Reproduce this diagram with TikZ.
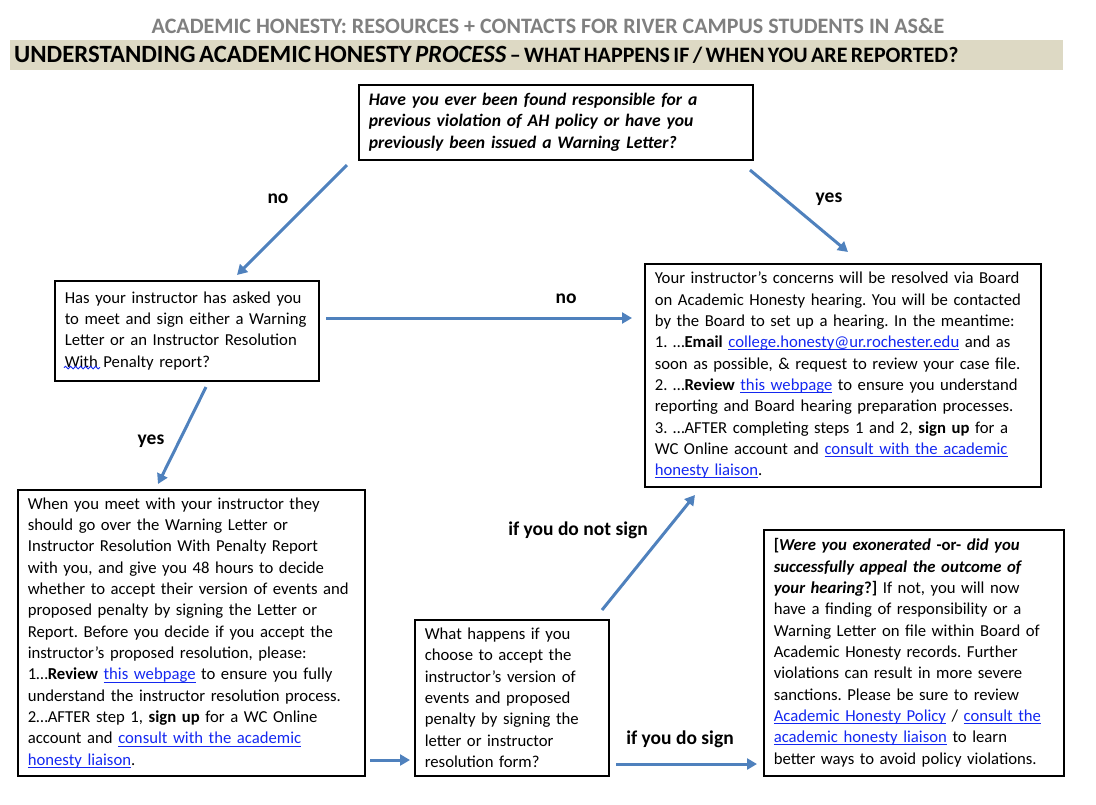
\documentclass[tikz,border=0pt]{standalone}
\usepackage{fontspec}
\setmainfont{Carlito}
\usetikzlibrary{arrows.meta,positioning,decorations.pathmorphing}
\definecolor{ahblue}{RGB}{79,129,189}
\definecolor{linkblue}{RGB}{20,40,240}
\definecolor{headgray}{RGB}{128,128,128}
\definecolor{bartan}{RGB}{221,217,196}
\newcommand{\lnk}[1]{\textcolor{linkblue}{\setbox0\hbox{#1}\rlap{\rule[-2.6pt]{\wd0}{1pt}}\box0}}
\frenchspacing
\hyphenpenalty=10000
\exhyphenpenalty=10000

\begin{document}
\begin{tikzpicture}[x=1pt, y=-1pt,
    font=\fontsize{16.7}{21.33}\selectfont,
    box/.style={draw, line width=1.6pt, anchor=north west, align=left, inner xsep=10pt, inner ysep=0pt},
    arrow/.style={-{Triangle[length=10pt,width=11pt]}, line width=3pt, ahblue},
    lbl/.style={font=\fontsize{19.5}{21}\selectfont\bfseries}
  ]
    \useasboundingbox (0,0) rectangle (1096,804);
    % headings
    \node[font=\fontsize{22}{24}\selectfont\bfseries, text=headgray] (title) at (548,26)
      {ACADEMIC HONESTY: RESOURCES + CONTACTS FOR RIVER CAMPUS STUDENTS IN AS\&E};
    \node[fill=bartan, anchor=north west, minimum width=1053pt, minimum height=30pt, text width=1045pt,
      align=left, inner xsep=4pt, inner ysep=0pt, font=\bfseries] (head) at (10,40)
      {\fontsize{24.8}{26}\selectfont UNDERSTANDING ACADEMIC HONESTY \textit{PROCESS}
       \fontsize{22}{26}\selectfont -- WHAT HAPPENS IF / WHEN YOU ARE REPORTED?};
    % boxes
    \node[box, text width=374pt, minimum width=394pt, minimum height=75pt, font=\fontsize{17.6}{21.33}\selectfont\bfseries\itshape] (q) at (358,84)
      {Have you ever been found responsible for a\\previous violation of AH policy or have you\\previously been issued a Warning Letter?};
    \node[box, text width=244pt, minimum width=264pt, minimum height=100pt] (instr) at (54,280)
      {Has your instructor has asked you\\to meet and sign either a Warning\\Letter or an Instructor Resolution\\With Penalty report?};
    \node[box, text width=376pt, minimum width=396pt, minimum height=223pt] (board) at (644,263)
      {Your instructor’s concerns will be resolved via Board\\on Academic Honesty hearing. You will be contacted\\by the Board to set up a hearing. In the meantime:\\1. …\textbf{Email} \lnk{college.honesty@ur.rochester.edu} and as\\soon as possible, \& request to review your case file.\\2. …\textbf{Review} \lnk{this webpage} to ensure you understand\\reporting and Board hearing preparation processes.\\3. …AFTER completing steps 1 and 2, \textbf{sign up} for a\\WC Online account and \lnk{consult with the academic}\\\lnk{honesty liaison}.};
    \node[box, text width=327pt, minimum width=347pt, minimum height=286pt] (meet) at (17,489)
      {When you meet with your instructor they\\should go over the Warning Letter or\\Instructor Resolution With Penalty Report\\with you, and give you 48 hours to decide\\whether to accept their version of events and\\proposed penalty by signing the Letter or\\Report. Before you decide if you accept the\\instructor’s proposed resolution, please:\\1…\textbf{Review} \lnk{this webpage} to ensure you fully\\understand the instructor resolution process.\\2…AFTER step 1, \textbf{sign up} for a WC Online\\account and \lnk{consult with the academic}\\\lnk{honesty liaison}.};
    \node[box, text width=174pt, minimum width=194pt, minimum height=156pt] (accept) at (414,619)
      {What happens if you\\choose to accept the\\instructor’s version of\\events and proposed\\penalty by signing the\\letter or instructor\\resolution form?};
    \node[box, text width=280pt, minimum width=300pt, minimum height=246pt] (result) at (763,529)
      {\textbf{[\textit{Were you exonerated} -or- \textit{did you}}\\\textbf{\textit{successfully appeal the outcome of}}\\\textbf{\textit{your hearing}?]} If not, you will now\\have a finding of responsibility or a\\Warning Letter on file within Board of\\Academic Honesty records. Further\\violations can result in more severe\\sanctions. Please be sure to review\\\lnk{Academic Honesty Policy} / \lnk{consult the}\\\lnk{academic honesty liaison} to learn\\better ways to avoid policy violations.};
    % spell-check wave under "With"
    \draw[linkblue, line width=0.9pt, decorate, decoration={snake, amplitude=1.3pt, segment length=5pt}]
      ([xshift=10pt,yshift=14pt]instr.south west) -- ++(36,0);
    % arrow ends
    \coordinate (qno) at (347,165);      \coordinate (instrin) at (237,275);
    \coordinate (qyes) at (750,170);     \coordinate (boardin) at (848,252);
    \coordinate (instrno) at (326,318);  \coordinate (boardleft) at (632,318);
    \coordinate (instryes) at (206,387); \coordinate (meetin) at (158,484);
    \coordinate (meetout) at (370,760);  \coordinate (acceptin) at (410,760);
    \coordinate (nosign) at (602,610);   \coordinate (boardlow) at (695,495);
    \coordinate (dosign) at (616,764);   \coordinate (resultin) at (757,764);
    \foreach \a/\b in {qno/instrin,qyes/boardin,instrno/boardleft,instryes/meetin,meetout/acceptin,nosign/boardlow,dosign/resultin} \draw[arrow] (\a) -- (\b);
    % labels
    \node[lbl] (lno1) at (278,199) {no};
    \node[lbl] (lyes1) at (829,199) {yes};
    \node[lbl] (lno2) at (566,299) {no};
    \node[lbl] (lyes2) at (151,441) {yes};
    \node[lbl] (lnot) at (578,530) {if you do not sign};
    \node[lbl] (ldo) at (680,739) {if you do sign};
  \end{tikzpicture}
\end{document}
